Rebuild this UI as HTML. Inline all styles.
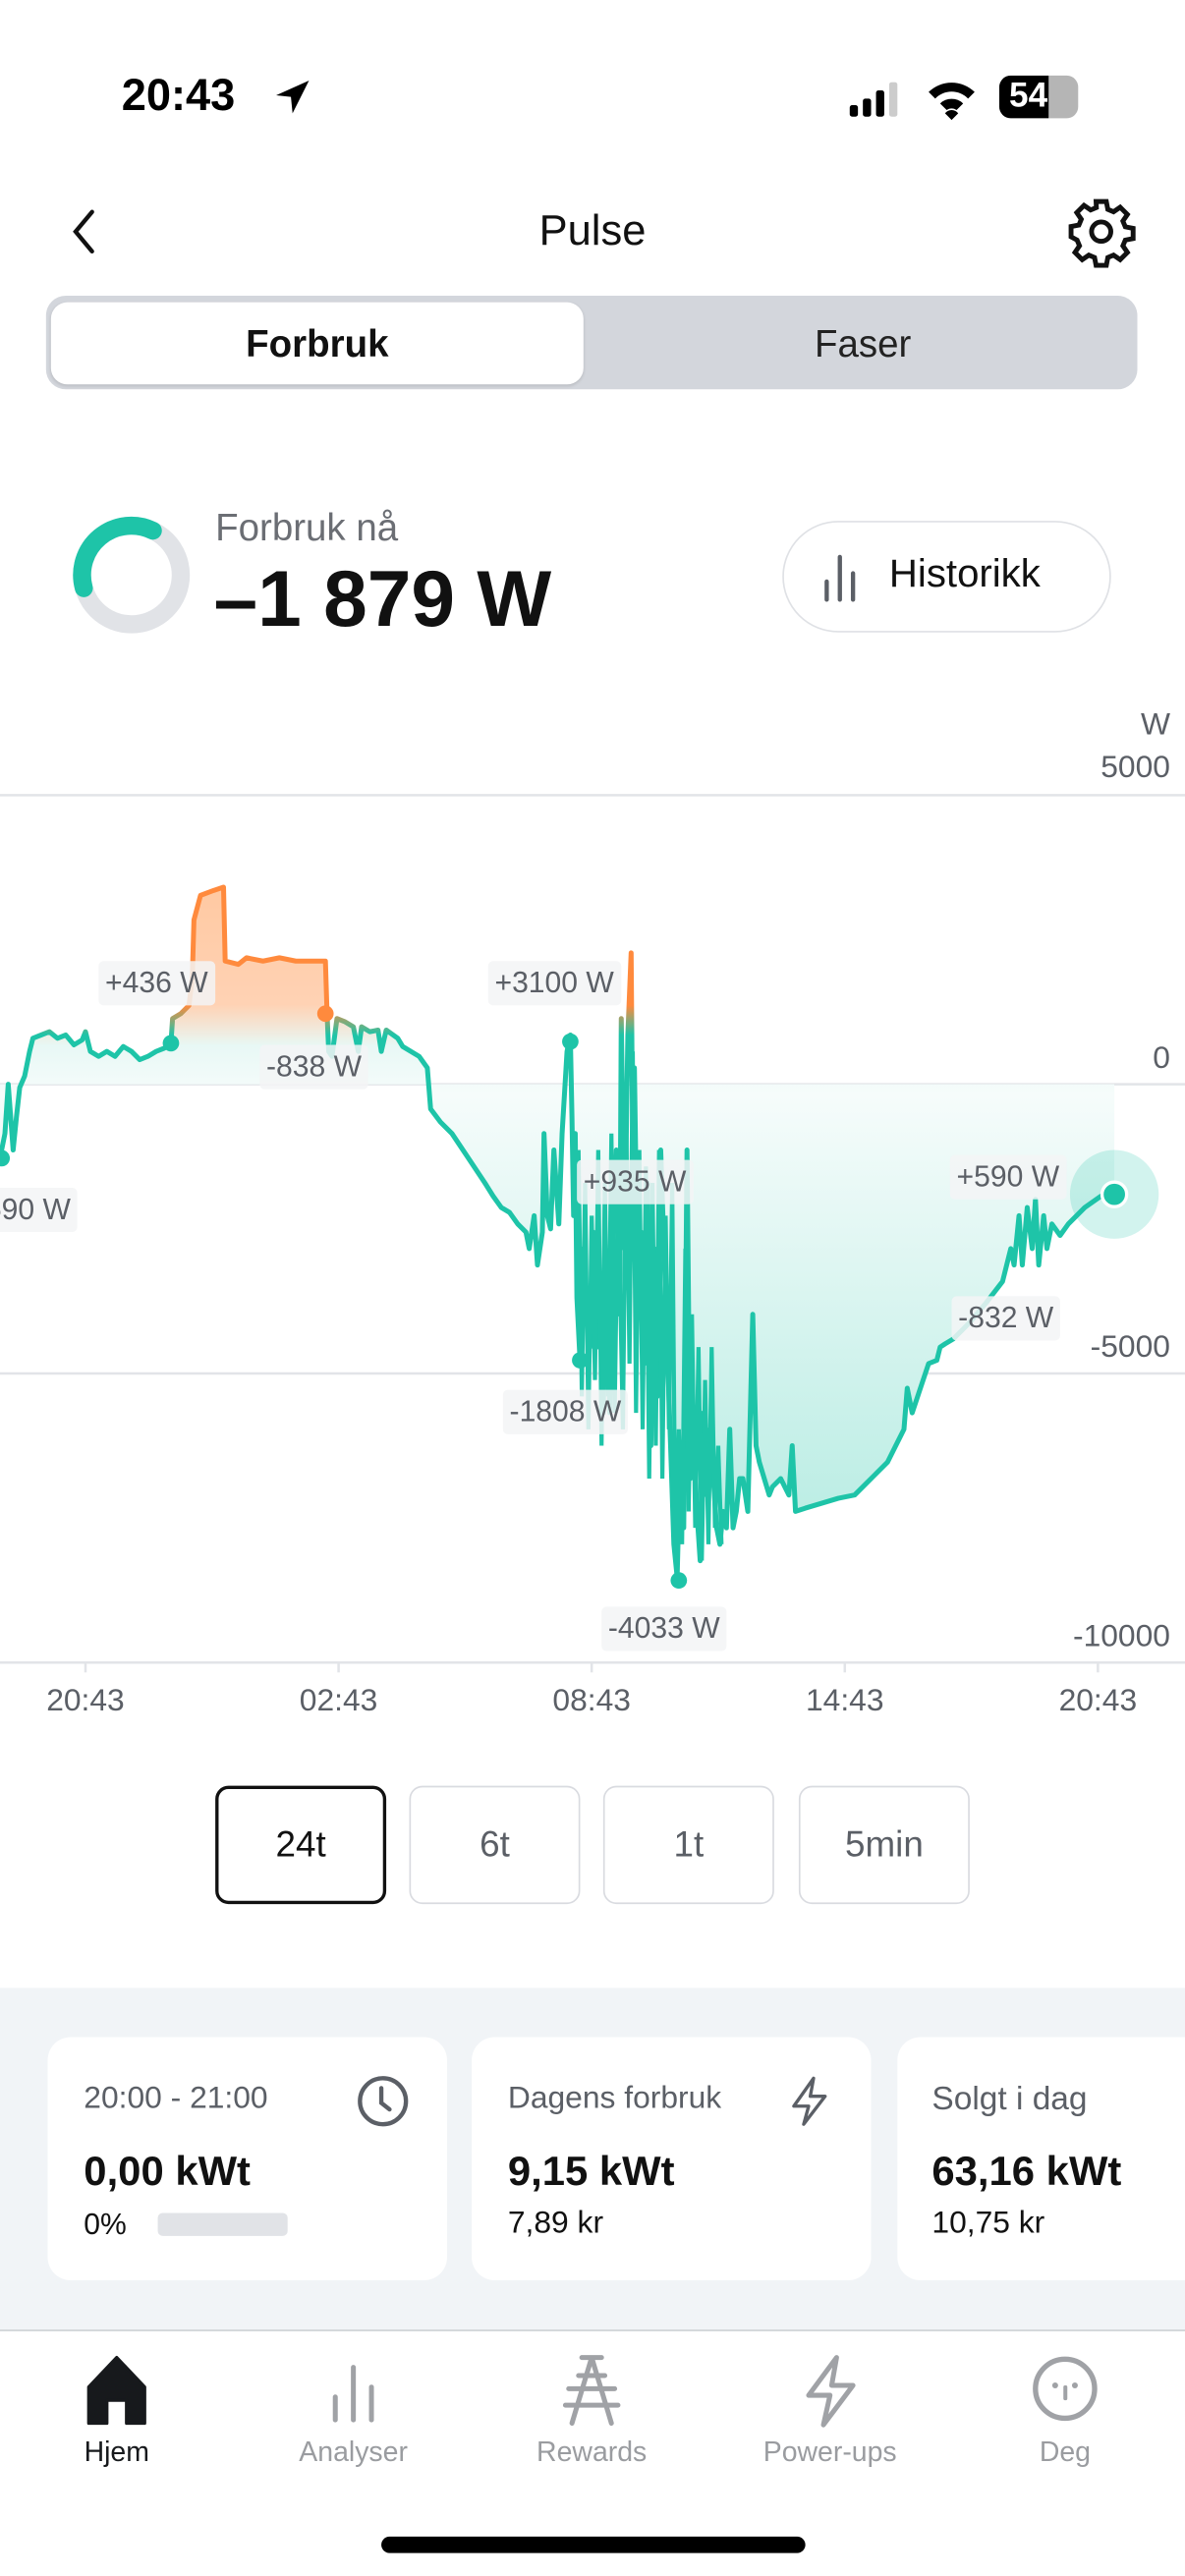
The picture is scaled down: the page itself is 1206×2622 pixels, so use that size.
<!DOCTYPE html>
<html><head><meta charset="utf-8"><style>
html,body{margin:0;padding:0;background:#fff;}
body{width:1206px;height:2622px;overflow:hidden;position:relative;font-family:"Liberation Sans",sans-serif;}
#w{position:absolute;left:0;top:0;width:721px;height:1568px;transform:scale(1.6727,1.6722);transform-origin:0 0;}
.a{position:absolute;white-space:nowrap;}
.lb{position:absolute;background:rgba(243,244,246,0.85);color:#5b5f66;font-size:18px;height:27px;line-height:27px;padding:0 4px;border-radius:3px;}
.yl{position:absolute;right:9px;color:#5b5f66;font-size:19px;}
.xl{position:absolute;top:1025px;color:#5b5f66;font-size:19px;width:80px;text-align:center;}
.btn{position:absolute;top:1087px;width:104px;height:72px;border:1.5px solid #d9dbe0;border-radius:8px;box-sizing:border-box;text-align:center;line-height:70px;font-size:22px;color:#5b5f66;}
.card{position:absolute;top:1240px;width:243px;height:148px;background:#fff;border-radius:14px;}
.tab{position:absolute;top:1483px;width:110px;text-align:center;font-size:17px;color:#9a9ca0;}
</style></head><body><div id="w">
<div class="a" style="left:74px;top:43px;font-size:27px;font-weight:bold;">20:43</div>
<svg class="a" style="left:166px;top:47px" width="24" height="24"><path d="M22 2 L2 11 L11 12 L12 22 Z" fill="#000"/></svg>
<svg class="a" style="left:515px;top:50px" width="40" height="22"><rect x="2" y="14" width="5" height="7" rx="1.5"/><rect x="10" y="10" width="5" height="11" rx="1.5"/><rect x="18" y="5" width="5" height="16" rx="1.5"/><rect x="26" y="0" width="5" height="21" rx="1.5" fill="#ccc"/></svg>
<svg class="a" style="left:563px;top:47px" width="32" height="26"><path d="M2 9 A20 20 0 0 1 30 9 L26 13 A14 14 0 0 0 6 13Z M9 16 A10 10 0 0 1 23 16 L19 20 A5 5 0 0 0 13 20Z M16 26 L12 22 A5 5 0 0 1 20 22Z"/></svg>
<div class="a" style="left:608px;top:46px;width:48px;height:26px;border-radius:7px;background:#b5b5b5;overflow:hidden;"><div style="width:30px;height:26px;background:#000"></div><div class="a" style="left:6px;top:1px;color:#fff;font-weight:bold;font-size:21px;">54</div></div>
<svg class="a" style="left:40px;top:126px" width="22" height="30"><path d="M16 3 L6 15 L16 27" stroke="#111" stroke-width="2.6" fill="none" stroke-linecap="round"/></svg>
<div class="a" style="left:0;width:721px;top:125px;text-align:center;font-size:26px;color:#111;">Pulse</div>
<svg class="a" style="left:648px;top:119px" width="44" height="44" viewBox="0 0 24 24"><path fill="none" stroke="#111" stroke-width="1.6" d="M10.3 2h3.4l.5 2.6 1.9.8 2.2-1.5 2.4 2.4-1.5 2.2.8 1.9 2.6.5v3.4l-2.6.5-.8 1.9 1.5 2.2-2.4 2.4-2.2-1.5-1.9.8-.5 2.6h-3.4l-.5-2.6-1.9-.8-2.2 1.5-2.4-2.4 1.5-2.2-.8-1.9L2 13.7v-3.4l2.6-.5.8-1.9-1.5-2.2 2.4-2.4 2.2 1.5 1.9-.8z"/><circle cx="12" cy="12" r="3.2" fill="none" stroke="#111" stroke-width="1.6"/></svg>
<div class="a" style="left:28px;top:180px;width:664px;height:57px;background:#d3d6dc;border-radius:12px;"></div>
<div class="a" style="left:31px;top:184px;width:324px;height:50px;background:#fff;border-radius:10px;box-shadow:0 1px 2px rgba(0,0,0,.12);text-align:center;line-height:50px;font-size:23px;font-weight:bold;color:#111;">Forbruk</div>
<div class="a" style="left:360px;top:184px;width:330px;line-height:50px;text-align:center;font-size:23px;color:#222;">Faser</div>
<svg class="a" style="left:42px;top:312px" width="76" height="76"><circle cx="38" cy="38" r="30" fill="none" stroke="#e1e3e7" stroke-width="11"/><path d="M9 46 A30 30 0 0 1 51 11" fill="none" stroke="#1ec4a8" stroke-width="11" stroke-linecap="round"/></svg>
<div class="a" style="left:131px;top:308px;font-size:23px;color:#6b6e74;">Forbruk nå</div>
<div class="a" style="left:130px;top:338px;font-size:48px;font-weight:bold;color:#111;">–1 879 W</div>
<div class="a" style="left:476px;top:317px;width:200px;height:68px;border:1.5px solid #dfe1e5;border-radius:34px;box-sizing:border-box;"></div>
<svg class="a" style="left:500px;top:336px" width="28" height="32"><g stroke="#5b5f66" stroke-width="2.6" stroke-linecap="round"><line x1="3" y1="18" x2="3" y2="29"/><line x1="11" y1="3" x2="11" y2="29"/><line x1="19" y1="13" x2="19" y2="29"/></g></svg>
<div class="a" style="left:541px;top:336px;font-size:24px;color:#111;">Historikk</div>
<div class="yl" style="top:431px">W</div>
<div class="yl" style="top:457px">5000</div>
<div class="yl" style="top:634px">0</div>
<div class="yl" style="top:810px">-5000</div>
<div class="yl" style="top:986px">-10000</div>
<svg class="a" style="left:0;top:0" width="721" height="1060">
<defs>
<linearGradient id="st" gradientUnits="userSpaceOnUse" x1="0" y1="540" x2="0" y2="640"><stop offset="0.72" stop-color="#ff8a3d"/><stop offset="0.9" stop-color="#1ec4a8"/></linearGradient>
<linearGradient id="fl" gradientUnits="userSpaceOnUse" x1="0" y1="540" x2="0" y2="960"><stop offset="0" stop-color="#ffc9a2"/><stop offset="0.17" stop-color="#ffd2b4"/><stop offset="0.23" stop-color="#e8f8f5"/><stop offset="0.3" stop-color="#f6fcfb"/><stop offset="1" stop-color="#b3ebe1"/></linearGradient>
</defs>
<line x1="0" y1="484" x2="721" y2="484" stroke="#e2e4e8" stroke-width="1.5"/>
<line x1="0" y1="660" x2="721" y2="660" stroke="#e2e4e8" stroke-width="1.5"/>
<line x1="0" y1="836" x2="721" y2="836" stroke="#e2e4e8" stroke-width="1.5"/>
<line x1="0" y1="1012" x2="721" y2="1012" stroke="#e2e4e8" stroke-width="1.5"/>
<g stroke="#e2e4e8" stroke-width="1.5"><line x1="52" y1="1012" x2="52" y2="1018"/><line x1="206" y1="1012" x2="206" y2="1018"/><line x1="360" y1="1012" x2="360" y2="1018"/><line x1="514" y1="1012" x2="514" y2="1018"/><line x1="668" y1="1012" x2="668" y2="1018"/></g>
<path fill="url(#fl)" d="M0 660 L0 705 L3 690 L5 660 L8 700 L10 680 L12 662 L15 655 L18 640 L20 632 L25 630 L30 628 L35 632 L40 630 L45 636 L50 633 L52 628 L55 640 L60 643 L65 640 L70 643 L75 637 L80 640 L85 645 L90 643 L95 640 L100 638 L104 635 L105 620 L110 617 L115 612 L117 595 L118 560 L122 545 L130 542 L136 540 L137 585 L145 587 L150 583 L160 585 L170 583 L180 585 L190 585 L198 585 L199 617 L200 640 L202 643 L205 620 L210 622 L215 625 L218 640 L220 625 L225 628 L230 627 L232 640 L235 627 L242 632 L245 637 L255 643 L260 650 L262 675 L268 683 L275 690 L285 705 L295 720 L300 728 L305 735 L310 738 L315 745 L320 750 L322 760 L325 740 L327 770 L330 750 L331 690 L333 740 L335 748 L337 700 L340 745 L342 690 L345 640 L347 630 L348 680 L349 740 L350 690 L351 790 L353 830 L355 760 L357 800 L359 820 L361 750 L363 820 L365 780 L367 860 L369 770 L371 860 L373 750 L375 700 L377 800 L378 620 L380 760 L382 630 L384 580 L385 700 L386 650 L388 790 L390 750 L392 830 L394 720 L396 880 L398 760 L400 850 L402 700 L404 760 L406 820 L408 880 L410 940 L412 960 L414 880 L416 930 L418 700 L420 900 L422 870 L424 920 L426 950 L428 860 L430 910 L432 870 L434 900 L436 930 L438 940 L440 920 L442 930 L444 870 L446 930 L448 920 L450 900 L452 900 L455 920 L458 800 L460 880 L462 890 L465 900 L468 910 L470 905 L475 900 L480 910 L482 880 L484 920 L490 918 L500 915 L510 912 L520 910 L530 900 L540 890 L545 880 L550 870 L552 845 L555 860 L560 845 L565 830 L570 828 L572 820 L575 818 L580 815 L590 805 L600 793 L610 780 L615 760 L617 770 L620 740 L622 770 L625 735 L628 760 L630 730 L632 770 L635 740 L637 760 L640 745 L645 752 L650 745 L655 740 L660 735 L670 728 L678 727 L678 660 Z"/>
<polyline fill="none" stroke="url(#st)" stroke-width="3" stroke-linejoin="round" points="0,705 3,690 5,660 8,700 10,680 12,662 15,655 18,640 20,632 25,630 30,628 35,632 40,630 45,636 50,633 52,628 55,640 60,643 65,640 70,643 75,637 80,640 85,645 90,643 95,640 100,638 104,635 105,620 110,617 115,612 117,595 118,560 122,545 130,542 136,540 137,585 145,587 150,583 160,585 170,583 180,585 190,585 198,585 199,617 200,640 202,643 205,620 210,622 215,625 218,640 220,625 225,628 230,627 232,640 235,627 242,632 245,637 255,643 260,650 262,675 268,683 275,690 285,705 295,720 300,728 305,735 310,738 315,745 320,750 322,760 325,740 327,770 330,750 331,690 333,740 335,748 337,700 340,745 342,690 345,640 347,630 348,680 349,740 350,690 351,790 353,830 355,760 357,800 359,820 361,750 363,820 365,780 367,860 369,770 371,860 373,750 375,700 377,800 378,620 380,760 382,630 384,580 385,700 386,650 388,790 390,750 392,830 394,720 396,880 398,760 400,850 402,700 404,760 406,820 408,880 410,940 412,960 414,880 416,930 418,700 420,900 422,870 424,920 426,950 428,860 430,910 432,870 434,900 436,930 438,940 440,920 442,930 444,870 446,930 448,920 450,900 452,900 455,920 458,800 460,880 462,890 465,900 468,910 470,905 475,900 480,910 482,880 484,920 490,918 500,915 510,912 520,910 530,900 540,890 545,880 550,870 552,845 555,860 560,845 565,830 570,828 572,820 575,818 580,815 590,805 600,793 610,780 615,760 617,770 620,740 622,770 625,735 628,760 630,730 632,770 635,740 637,760 640,745 645,752 650,745 655,740 660,735 670,728 678,727"/>
<polyline fill="none" stroke="#1ec4a8" stroke-width="2.5" points="352,700 354,850 356,720 358,870 360,740 362,840 364,700 366,880 368,720 370,850 372,690 374,860 376,720 379,870 381,680 383,830 385,640 387,860 389,700 391,870 393,710 395,900 397,720 399,880 401,700 403,900 405,740 407,870 409,720 411,950 413,870 415,940 417,760 419,920 421,800 423,930 425,820 427,950 429,840 431,940 433,820 435,930 437,880 439,940"/>
<g fill="#1ec4a8"><circle cx="1" cy="705" r="5"/><circle cx="104" cy="635" r="5"/><circle cx="347" cy="634" r="5"/><circle cx="353" cy="828" r="5"/><circle cx="413" cy="962" r="5"/></g>
<circle cx="198" cy="617" r="5" fill="#ff8a3d"/>
<circle cx="678" cy="727" r="27" fill="#1ec4a8" fill-opacity="0.2"/>
<circle cx="678" cy="727" r="7.5" fill="#1ec4a8" stroke="#fff" stroke-width="2"/>
</svg>
<div class="lb" style="left:-30px;top:723px;width:69px;text-align:right">-590 W</div>
<div class="lb" style="left:60px;top:585px">+436 W</div>
<div class="lb" style="left:158px;top:636px">-838 W</div>
<div class="lb" style="left:297px;top:585px">+3100 W</div>
<div class="lb" style="left:351px;top:706px">+935 W</div>
<div class="lb" style="left:578px;top:703px">+590 W</div>
<div class="lb" style="left:579px;top:789px">-832 W</div>
<div class="lb" style="left:306px;top:846px">-1808 W</div>
<div class="lb" style="left:366px;top:978px">-4033 W</div>
<div class="xl" style="left:12px">20:43</div>
<div class="xl" style="left:166px">02:43</div>
<div class="xl" style="left:320px">08:43</div>
<div class="xl" style="left:474px">14:43</div>
<div class="xl" style="left:628px">20:43</div>
<div class="btn" style="left:131px;border:2px solid #111;color:#111;line-height:68px;">24t</div>
<div class="btn" style="left:249px">6t</div>
<div class="btn" style="left:367px">1t</div>
<div class="btn" style="left:486px">5min</div>
<div class="a" style="left:0;top:1210px;width:721px;height:208px;background:#f1f4f7;border-bottom:1px solid #cfd2d6;"></div>
<div class="card" style="left:29px"></div>
<div class="card" style="left:287px"></div>
<div class="card" style="left:546px"></div>
<div class="a" style="left:51px;top:1267px;font-size:19px;color:#5b5f66;">20:00 - 21:00</div>
<svg class="a" style="left:216px;top:1262px" width="34" height="34"><circle cx="17" cy="17" r="14" fill="none" stroke="#5b5f66" stroke-width="2.6"/><path d="M16 9 V18 L21 22" fill="none" stroke="#5b5f66" stroke-width="2.6" stroke-linecap="round"/></svg>
<div class="a" style="left:51px;top:1308px;font-size:25px;font-weight:bold;color:#111;">0,00 kWt</div>
<div class="a" style="left:51px;top:1344px;font-size:18px;color:#111;">0%</div>
<div class="a" style="left:96px;top:1347px;width:79px;height:14px;background:#e1e3e7;border-radius:3px;"></div>
<div class="a" style="left:309px;top:1267px;font-size:19px;color:#5b5f66;">Dagens forbruk</div>
<svg class="a" style="left:478px;top:1263px" width="28" height="32"><path d="M17 2 L5 19 H14 L11 30 L24 13 H15 Z" fill="none" stroke="#5b5f66" stroke-width="2" stroke-linejoin="round"/></svg>
<div class="a" style="left:309px;top:1308px;font-size:25px;font-weight:bold;color:#111;">9,15 kWt</div>
<div class="a" style="left:309px;top:1343px;font-size:19px;color:#111;">7,89 kr</div>
<div class="a" style="left:567px;top:1267px;font-size:20px;color:#5b5f66;">Solgt i dag</div>
<div class="a" style="left:567px;top:1308px;font-size:25px;font-weight:bold;color:#111;">63,16 kWt</div>
<div class="a" style="left:567px;top:1343px;font-size:19px;color:#111;">10,75 kr</div>
<svg class="a" style="left:52px;top:1433px" width="38" height="44"><path d="M19 2 L36 20 V42 H25 V28 H13 V42 H2 V20 Z" fill="#17191c" stroke="#17191c" stroke-width="2" stroke-linejoin="round"/></svg>
<svg class="a" style="left:198px;top:1437px" width="34" height="40"><g stroke="#a0a2a6" stroke-width="3" stroke-linecap="round"><line x1="6" y1="22" x2="6" y2="36"/><line x1="17" y1="4" x2="17" y2="36"/><line x1="28" y1="16" x2="28" y2="36"/></g></svg>
<svg class="a" style="left:338px;top:1432px" width="44" height="46"><g stroke="#a0a2a6" stroke-width="3" fill="none" stroke-linecap="round"><path d="M16 3 H28 M22 3 L10 43 M22 3 L34 43 M8 22 H36 M6 32 H38 M14 14 H30"/></g></svg>
<svg class="a" style="left:486px;top:1432px" width="38" height="46"><path d="M23 3 L6 26 H19 L15 44 L33 20 H20 Z" fill="none" stroke="#a0a2a6" stroke-width="3" stroke-linejoin="round"/></svg>
<svg class="a" style="left:626px;top:1432px" width="44" height="44"><circle cx="22" cy="22" r="18" fill="none" stroke="#a0a2a6" stroke-width="3.2"/><g fill="#a0a2a6"><circle cx="16" cy="20" r="1.8"/><circle cx="28" cy="20" r="1.8"/><rect x="21" y="20" width="2.4" height="9" rx="1"/></g></svg>
<div class="tab" style="left:16px;color:#17191c">Hjem</div>
<div class="tab" style="left:160px">Analyser</div>
<div class="tab" style="left:305px">Rewards</div>
<div class="tab" style="left:450px">Power-ups</div>
<div class="tab" style="left:593px">Deg</div>
<div class="a" style="left:232px;top:1544px;width:258px;height:10px;border-radius:5px;background:#000;"></div>
</div></body></html>
